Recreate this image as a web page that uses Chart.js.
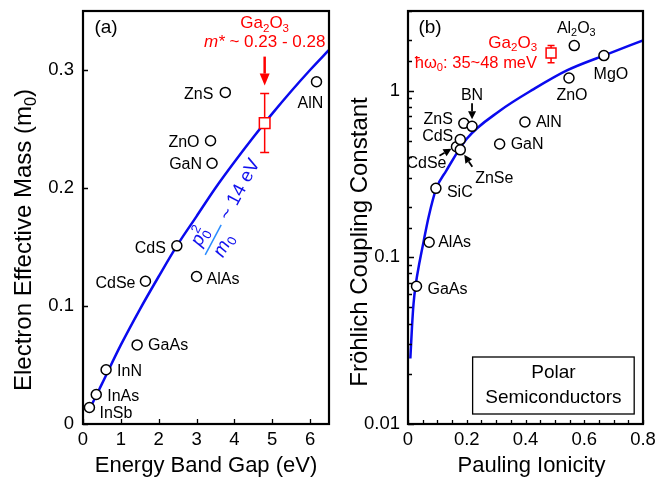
<!DOCTYPE html>
<html>
<head>
<meta charset="utf-8">
<script src="https://cdn.jsdelivr.net/npm/chart.js@4.4.0/dist/chart.umd.min.js"></script>
<style>
    html, body { margin: 0; padding: 0; background: #fff; }
    #wrap { position: relative; width: 665px; height: 478px; }
    #panelA { position: absolute; left: 0; top: 0; }
    #panelB { position: absolute; left: 340px; top: 0; }
</style>
</head>
<body>
<div id="wrap">
    <canvas id="panelA" width="340" height="478"></canvas>
    <canvas id="panelB" width="325" height="478"></canvas>
</div>
<script>
const FONT = '"Liberation Sans", Arial, sans-serif';

// ---- panel (a): electron effective mass vs band gap ----
let gap_names = ['InSb', 'InAs', 'InN', 'GaAs', 'CdSe', 'CdS', 'AlAs', 'GaN', 'ZnO', 'ZnS', 'AlN'],
    gap_ev = [0.17, 0.35, 0.61, 1.43, 1.65, 2.48, 3.00, 3.41, 3.37, 3.76, 6.17],
    gap_mass = [0.014, 0.025, 0.046, 0.067, 0.121, 0.151, 0.125, 0.221, 0.240, 0.281, 0.290];

// blue p0^2/m0 ~ 14 eV line
let kane_ev = [0.15, 0.5, 1, 1.5, 2, 2.5, 3, 3.5, 4, 4.5, 5, 5.5, 6, 6.5],
    kane_mass = [0.011, 0.034, 0.067, 0.097, 0.125, 0.152, 0.176, 0.200, 0.222, 0.243, 0.263, 0.282, 0.300, 0.317];

let ga2o3_ev = [4.8],
    ga2o3_mass = [0.255],
    ga2o3_mass_low = [0.23],
    ga2o3_mass_high = [0.28];

let gap_x_ticks = [0, 1, 2, 3, 4, 5, 6],
    gap_y_ticks = [0, 0.1, 0.2, 0.3];

// ---- panel (b): Frohlich coupling vs Pauling ionicity ----
let ion_names = ['GaAs', 'AlAs', 'SiC', 'CdSe', 'ZnSe', 'CdS', 'ZnS', 'BN', 'GaN', 'AlN', 'ZnO', 'Al_2O_3', 'MgO'],
    ion_f = [0.029, 0.072, 0.095, 0.165, 0.178, 0.178, 0.190, 0.218, 0.312, 0.398, 0.548, 0.566, 0.667],
    ion_alpha = [0.067, 0.123, 0.259, 0.460, 0.441, 0.508, 0.636, 0.610, 0.478, 0.648, 1.19, 1.86, 1.62];

// blue guide curve
let guide_f = [0.008, 0.0135, 0.019, 0.027, 0.0385, 0.053, 0.070, 0.096, 0.13, 0.20, 0.314, 0.428, 0.541, 0.666, 0.8],
    guide_alpha = [0.0247, 0.038, 0.053, 0.070, 0.092, 0.124, 0.174, 0.258, 0.33, 0.514, 0.759, 1.02, 1.32, 1.62, 2.0];

let ga2o3_f = [0.487],
    ga2o3_alpha = [1.68],
    ga2o3_alpha_low = [1.47],
    ga2o3_alpha_high = [1.86];

let ion_x_ticks = [0, 0.05, 0.1, 0.15, 0.2, 0.25, 0.3, 0.35, 0.4, 0.45, 0.5, 0.55, 0.6, 0.65, 0.7, 0.75, 0.8],
    ion_x_labels = {0: '0', 0.2: '0.2', 0.4: '0.4', 0.6: '0.6', 0.8: '0.8'},
    ion_y_labels = {0.01: '0.01', 0.1: '0.1', 1: '1'};

// label placement next to each point: [dx, dy, align]
let gap_label_pos = {
    InSb: [10, 6, 'left'], InAs: [11, 2, 'left'], InN: [11, 2, 'left'], GaAs: [11, 1, 'left'],
    CdSe: [-10, 2, 'right'], CdS: [-11, 3, 'right'], AlAs: [10, 3, 'left'], GaN: [-10, 1, 'right'],
    ZnO: [-11, 2, 'right'], ZnS: [-12, 2, 'right'], AlN: [-6, 22, 'center']
};
let ion_label_pos = {
    GaAs: [11, 3, 'left'], AlAs: [9, 0, 'left'], SiC: [11, 4, 'left'], CdSe: [-10, 17, 'right'],
    ZnSe: [34, 29, 'center'], CdS: [-7, -3, 'right'], ZnS: [-11, -4, 'right'], BN: [0, -31, 'center'],
    GaN: [11, 1, 'left'], AlN: [11, 1, 'left'], ZnO: [3, 18, 'center'], Al_2O_3: [2, -17, 'center'],
    MgO: [7, 19, 'center']
};

//Split "Al_2O_3" style strings into text parts
function parts_of(str) {
    let out = [], i = 0;
    while (i < str.length) {
        if (str[i] === '_' || str[i] === '^') {
            out.push({t: str[i + 1], sub: str[i] === '_', sup: str[i] === '^'});
            i += 2;
        } else {
            if (!out.length || out[out.length - 1].sub || out[out.length - 1].sup) out.push({t: ''});
            out[out.length - 1].t += str[i];
            i++;
        }
    }
    return out;
}

function part_font(p, size) {
    let s = (p.sub || p.sup) ? size * 0.68 : size;
    return (p.it ? 'italic ' : '') + s + 'px ' + FONT;
}

//Draw text with sub/superscripts, vertically centred on y
function draw_rich(ctx, parts, x, y, size, align, color) {
    let w = 0;
    parts.forEach(p => { ctx.font = part_font(p, size); w += ctx.measureText(p.t).width; });
    let cx = align === 'center' ? x - w / 2 : (align === 'right' ? x - w : x);
    ctx.save();
    ctx.fillStyle = color || '#000';
    ctx.textAlign = 'left';
    ctx.textBaseline = 'middle';
    parts.forEach(p => {
        ctx.font = part_font(p, size);
        let dy = p.sub ? size * 0.3 : (p.sup ? -size * 0.35 : 0);
        ctx.fillText(p.t, cx, y + dy);
        if (!p.stack) cx += ctx.measureText(p.t).width;
    });
    ctx.restore();
}

function draw_arrow(ctx, x1, y1, x2, y2, head_len, head_half, color, width) {
    let ang = Math.atan2(y2 - y1, x2 - x1);
    let bx = x2 - head_len * Math.cos(ang), by = y2 - head_len * Math.sin(ang);
    ctx.save();
    ctx.strokeStyle = color;
    ctx.fillStyle = color;
    ctx.lineWidth = width;
    ctx.beginPath();
    ctx.moveTo(x1, y1);
    ctx.lineTo(bx, by);
    ctx.stroke();
    ctx.beginPath();
    ctx.moveTo(x2, y2);
    ctx.lineTo(bx + head_half * Math.sin(ang), by - head_half * Math.cos(ang));
    ctx.lineTo(bx - head_half * Math.sin(ang), by + head_half * Math.cos(ang));
    ctx.closePath();
    ctx.fill();
    ctx.restore();
}

function draw_error_bar(ctx, px, py_low, py_high, cap, color) {
    ctx.save();
    ctx.strokeStyle = color;
    ctx.lineWidth = 1.5;
    ctx.beginPath();
    ctx.moveTo(px, py_low); ctx.lineTo(px, py_high);
    ctx.moveTo(px - cap, py_low); ctx.lineTo(px + cap, py_low);
    ctx.moveTo(px - cap, py_high); ctx.lineTo(px + cap, py_high);
    ctx.stroke();
    ctx.restore();
}

//Box round the plot and inward ticks on the left and bottom
function draw_frame(chart, x_len, y_len) {
    let ctx = chart.ctx, a = chart.chartArea, sx = chart.scales.x, sy = chart.scales.y;
    ctx.save();
    ctx.strokeStyle = '#000';
    ctx.lineWidth = 1.3;
    ctx.beginPath();
    sx.ticks.forEach(t => {
        let px = Math.round(sx.getPixelForValue(t.value)) + 0.5;
        ctx.moveTo(px, a.bottom); ctx.lineTo(px, a.bottom - x_len(t.value));
    });
    sy.ticks.forEach(t => {
        let py = Math.round(sy.getPixelForValue(t.value)) + 0.5;
        ctx.moveTo(a.left, py); ctx.lineTo(a.left + y_len(t.value), py);
    });
    ctx.stroke();
    ctx.lineWidth = 2.2;
    ctx.strokeRect(a.left, a.top, a.right - a.left, a.bottom - a.top);
    ctx.restore();
}

function draw_point_labels(chart, names, xs, ys, pos) {
    let sx = chart.scales.x, sy = chart.scales.y;
    names.forEach((n, i) => {
        let p = pos[n], px = sx.getPixelForValue(xs[i]), py = sy.getPixelForValue(ys[i]);
        draw_rich(chart.ctx, parts_of(n), px + p[0], py + p[1], 16, p[2], '#000');
    });
}

//No extra room for overhanging tick labels: the plot box is fixed
function no_label_padding(s) {
    s.paddingTop = 0;
    s.paddingBottom = 0;
    s.paddingLeft = 0;
    s.paddingRight = 0;
}

function base_options(x_scale, y_scale, pad_right) {
    return {
        responsive: false,
        animation: false,
        devicePixelRatio: 1,
        layout: { autoPadding: false, padding: { top: 11, right: pad_right, left: 0, bottom: 0 } },
        plugins: { legend: { display: false }, tooltip: { enabled: false } },
        scales: { x: x_scale, y: y_scale }
    };
}

// ---------- panel (a) ----------
const panel_a_decor = {
    id: 'panel_a_decor',
    beforeDatasetsDraw(chart) {
        let sx = chart.scales.x, sy = chart.scales.y;
        draw_error_bar(chart.ctx, sx.getPixelForValue(ga2o3_ev[0]),
            sy.getPixelForValue(ga2o3_mass_low[0]), sy.getPixelForValue(ga2o3_mass_high[0]), 4.5, '#ff0000');
    },
    afterDraw(chart) {
        let ctx = chart.ctx, sx = chart.scales.x, sy = chart.scales.y, a = chart.chartArea;
        draw_frame(chart, () => 5, () => 5);
        draw_point_labels(chart, gap_names, gap_ev, gap_mass, gap_label_pos);

        // Ga2O3 note and arrow
        let gx = sx.getPixelForValue(ga2o3_ev[0]), tip = sy.getPixelForValue(ga2o3_mass_high[0]) - 8;
        draw_arrow(ctx, gx, tip - 29, gx, tip, 12, 5, '#ff0000', 2.5);
        draw_rich(ctx, parts_of('Ga_2O_3'), gx, tip - 62, 17, 'center', '#ff0000');
        draw_rich(ctx, [{t: 'm*', it: true}, {t: ' ~ 0.23 - 0.28'}], gx, tip - 43, 17, 'center', '#ff0000');

        // rotated p0^2/m0 ~ 14 eV along the line
        ctx.save();
        ctx.translate(sx.getPixelForValue(3.44), sy.getPixelForValue(0.156));
        ctx.rotate(-62 * Math.PI / 180);
        ctx.strokeStyle = '#2a8cff';
        ctx.lineWidth = 1.5;
        ctx.beginPath(); ctx.moveTo(-17, 0); ctx.lineTo(17, 0); ctx.stroke();
        draw_rich(ctx, [{t: 'p', it: true}, {t: '0', sub: true, stack: true}, {t: '2', sup: true}], 0, -13, 19, 'center', '#1010ee');
        draw_rich(ctx, [{t: 'm', it: true}, {t: '0', sub: true}], 0, 12, 19, 'center', '#1010ee');
        draw_rich(ctx, [{t: '~ 14 eV'}], 24, 0, 19, 'left', '#1010ee');
        ctx.restore();

        draw_rich(ctx, [{t: '(a)'}], a.left + 23, a.top + 17, 19, 'center', '#000');

        // axis titles
        draw_rich(ctx, [{t: 'Energy Band Gap (eV)'}], (a.left + a.right) / 2, 466, 22, 'center', '#000');
        ctx.save();
        ctx.translate(24, 240);
        ctx.rotate(-Math.PI / 2);
        draw_rich(ctx, [{t: 'Electron Effective Mass (m'}, {t: '0', sub: true}, {t: ')'}], 0, 0, 24, 'center', '#000');
        ctx.restore();
    }
};

new Chart(document.getElementById('panelA'), {
    type: 'scatter',
    data: {
        datasets: [{
            data: ga2o3_ev.map((v, i) => ({x: v, y: ga2o3_mass[i]})),
            pointStyle: 'rect',
            pointRadius: 7.5,
            borderColor: '#ff0000',
            backgroundColor: '#fff',
            borderWidth: 1.5
        }, {
            data: gap_ev.map((v, i) => ({x: v, y: gap_mass[i]})),
            pointRadius: 5,
            borderColor: '#000',
            backgroundColor: '#fff',
            borderWidth: 1.5
        }, {
            data: kane_ev.map((v, i) => ({x: v, y: kane_mass[i]})),
            showLine: true,
            pointRadius: 0,
            borderColor: '#0a0aee',
            borderWidth: 2.5,
            cubicInterpolationMode: 'monotone'
        }]
    },
    options: base_options({
        type: 'linear', min: 0, max: 6.5,
        grid: { display: false, drawTicks: false }, border: { display: false },
        afterBuildTicks: s => { s.ticks = gap_x_ticks.map(v => ({value: v})); },
        afterFit: s => { s.height = 54; no_label_padding(s); },
        ticks: { color: '#000', padding: 5, font: { family: FONT, size: 18.5 }, callback: v => String(v) }
    }, {
        type: 'linear', min: 0, max: 0.35,
        grid: { display: false, drawTicks: false }, border: { display: false },
        afterBuildTicks: s => { s.ticks = gap_y_ticks.map(v => ({value: v})); },
        afterFit: s => { s.width = 83; no_label_padding(s); },
        ticks: { color: '#000', padding: 9, font: { family: FONT, size: 18.5 }, callback: v => String(v) }
    }, 11),
    plugins: [panel_a_decor]
});

// ---------- panel (b) ----------
function ion_label(v) {
    let key = Object.keys(ion_x_labels).find(k => Math.abs(+k - v) < 1e-6);
    return key === undefined ? '' : ion_x_labels[key];
}
function alpha_label(v) {
    let key = Object.keys(ion_y_labels).find(k => Math.abs(+k - v) < 1e-9 * Math.max(1, v) + 1e-12);
    return key === undefined ? '' : ion_y_labels[key];
}

const panel_b_decor = {
    id: 'panel_b_decor',
    beforeDatasetsDraw(chart) {
        let sx = chart.scales.x, sy = chart.scales.y;
        draw_error_bar(chart.ctx, sx.getPixelForValue(ga2o3_f[0]),
            sy.getPixelForValue(ga2o3_alpha_low[0]), sy.getPixelForValue(ga2o3_alpha_high[0]), 3.5, '#ff0000');
    },
    afterDraw(chart) {
        let ctx = chart.ctx, sx = chart.scales.x, sy = chart.scales.y, a = chart.chartArea;
        draw_frame(chart, () => 4, v => (alpha_label(v) ? 6 : 4));
        draw_point_labels(chart, ion_names, ion_f, ion_alpha, ion_label_pos);

        // arrows pointing at crowded points
        let pt = n => {
            let i = ion_names.indexOf(n);
            return [sx.getPixelForValue(ion_f[i]), sy.getPixelForValue(ion_alpha[i])];
        };
        let bn = pt('BN'), cdse = pt('CdSe'), znse = pt('ZnSe');
        draw_arrow(ctx, bn[0], bn[1] - 23, bn[0], bn[1] - 7, 8, 4, '#000', 1.8);
        draw_arrow(ctx, cdse[0] - 17, cdse[1] + 9, cdse[0] - 5, cdse[1] + 2, 8, 4, '#000', 1.8);
        draw_arrow(ctx, znse[0] + 12, znse[1] + 17, znse[0] + 4, znse[1] + 5, 8, 4, '#000', 1.8);

        // Ga2O3 note
        let gx = sx.getPixelForValue(ga2o3_f[0]), gy = sy.getPixelForValue(ga2o3_alpha[0]);
        draw_rich(ctx, parts_of('Ga_2O_3'), gx - 14, gy - 10, 17, 'right', '#ff0000');
        draw_rich(ctx, [{t: 'ħω'}, {t: '0', sub: true}, {t: ': 35~48 meV'}], gx - 14, gy + 10, 16.5, 'right', '#ff0000');

        draw_rich(ctx, [{t: '(b)'}], a.left + 22, a.top + 17, 19, 'center', '#000');

        // Polar Semiconductors box
        let bx = sx.getPixelForValue(0.22), bx2 = sx.getPixelForValue(0.77);
        ctx.save();
        ctx.strokeStyle = '#000';
        ctx.lineWidth = 1.3;
        ctx.strokeRect(bx, a.bottom - 67, bx2 - bx, 57);
        ctx.restore();
        draw_rich(ctx, [{t: 'Polar'}], (bx + bx2) / 2, a.bottom - 51, 19, 'center', '#000');
        draw_rich(ctx, [{t: 'Semiconductors'}], (bx + bx2) / 2, a.bottom - 26, 19, 'center', '#000');

        // axis titles
        draw_rich(ctx, [{t: 'Pauling Ionicity'}], (a.left + a.right) / 2 + 6, 466, 22, 'center', '#000');
        ctx.save();
        ctx.translate(20, 242);
        ctx.rotate(-Math.PI / 2);
        draw_rich(ctx, [{t: 'Fröhlich Coupling Constant'}], 0, 0, 24, 'center', '#000');
        ctx.restore();
    }
};

new Chart(document.getElementById('panelB'), {
    type: 'scatter',
    data: {
        datasets: [{
            data: ga2o3_f.map((v, i) => ({x: v, y: ga2o3_alpha[i]})),
            pointStyle: 'rect',
            pointRadius: 7,
            borderColor: '#ff0000',
            backgroundColor: '#fff',
            borderWidth: 1.5
        }, {
            data: ion_f.map((v, i) => ({x: v, y: ion_alpha[i]})),
            pointRadius: 5,
            borderColor: '#000',
            backgroundColor: '#fff',
            borderWidth: 1.5
        }, {
            data: guide_f.map((v, i) => ({x: v, y: guide_alpha[i]})),
            showLine: true,
            pointRadius: 0,
            borderColor: '#0a0aee',
            borderWidth: 2.5,
            cubicInterpolationMode: 'monotone'
        }]
    },
    options: base_options({
        type: 'linear', min: 0, max: 0.8,
        grid: { display: false, drawTicks: false }, border: { display: false },
        afterBuildTicks: s => { s.ticks = ion_x_ticks.map(v => ({value: v})); },
        afterFit: s => { s.height = 54; no_label_padding(s); },
        ticks: { color: '#000', padding: 5, autoSkip: false, maxRotation: 0, font: { family: FONT, size: 18.5 }, callback: v => ion_label(v) }
    }, {
        type: 'logarithmic', min: 0.01, max: 3,
        grid: { display: false, drawTicks: false }, border: { display: false },
        afterFit: s => { s.width = 68; no_label_padding(s); },
        ticks: { color: '#000', padding: 8, autoSkip: false, font: { family: FONT, size: 18.5 }, callback: v => alpha_label(v) }
    }, 22),
    plugins: [panel_b_decor]
});
</script>
</body>
</html>
